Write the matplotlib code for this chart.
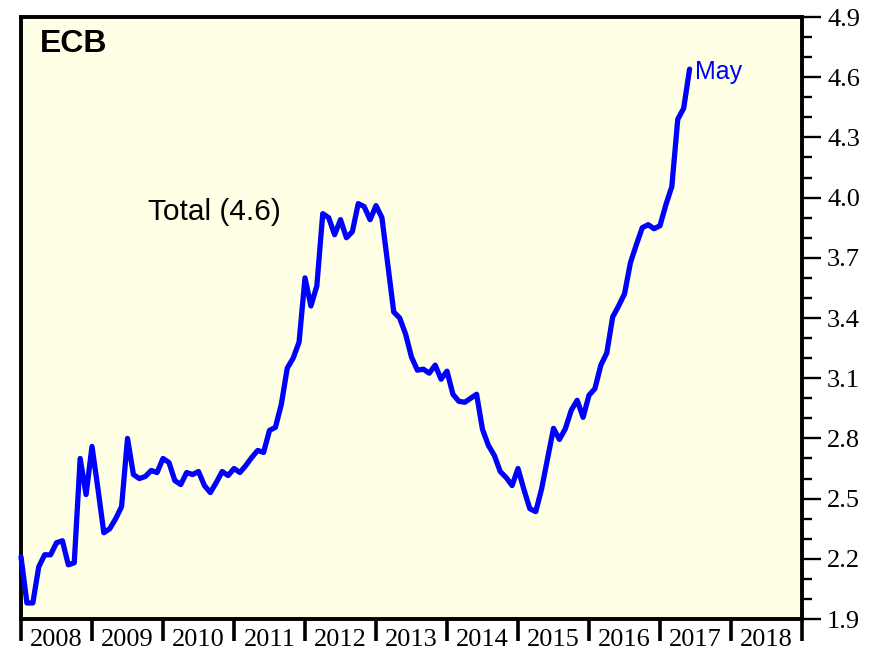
import matplotlib
matplotlib.use("Agg")
import matplotlib.pyplot as plt
import numpy as np
import pandas as pd
from matplotlib.ticker import MultipleLocator, FixedLocator, NullFormatter, FixedFormatter

# ECB total assets (EUR trillion), monthly, Dec 2007 .. May 2017
start_month = "2007-12"
total_assets = [
    2.21, 1.98, 1.98, 2.16, 2.22, 2.22, 2.28, 2.29, 2.17, 2.18, 2.70, 2.52,
    2.76, 2.55, 2.33, 2.35, 2.40, 2.46, 2.80, 2.62, 2.60, 2.61, 2.64, 2.63,
    2.70, 2.68, 2.59, 2.57, 2.63, 2.62, 2.635, 2.565, 2.53, 2.58, 2.635, 2.615,
    2.65, 2.63, 2.665, 2.705, 2.74, 2.73, 2.84, 2.855, 2.97, 3.15, 3.20, 3.28,
    3.60, 3.46, 3.56, 3.92, 3.90, 3.815, 3.89, 3.80, 3.83, 3.97, 3.955, 3.89,
    3.96, 3.90, 3.665, 3.43, 3.40, 3.32, 3.205, 3.14, 3.145, 3.125, 3.165, 3.095,
    3.135, 3.02, 2.985, 2.98, 3.00, 3.02, 2.845, 2.765, 2.715, 2.635, 2.605, 2.565,
    2.65, 2.545, 2.45, 2.435, 2.55, 2.70, 2.85, 2.795, 2.848, 2.94, 2.99, 2.905,
    3.015, 3.048, 3.165, 3.225, 3.405, 3.46, 3.52, 3.675, 3.765, 3.85, 3.865, 3.845,
    3.86, 3.965, 4.055, 4.39, 4.445, 4.64,
]
year_labels = [str(y) for y in range(2008, 2019)]
y_major = [1.9, 2.2, 2.5, 2.8, 3.1, 3.4, 3.7, 4.0, 4.3, 4.6, 4.9]
title_text = "ECB"
series_label = "Total (4.6)"
last_label = "May"

months = pd.date_range(start_month, periods=len(total_assets), freq="MS")
xs = months.year + months.month / 12.0

fig = plt.figure(figsize=(8.78, 6.71), dpi=100)
ax = fig.add_axes([21 / 878, 52 / 671, 781 / 878, 602 / 671])
ax.set_facecolor("#FFFFE6")

ax.plot(xs, total_assets, color="#0000FF", lw=3.8, solid_joinstyle="round",
        solid_capstyle="round", clip_on=False, zorder=3)

ax.set_xlim(2008, 2019)
ax.set_ylim(1.9, 4.9)

for s in ax.spines.values():
    s.set_linewidth(2.8)
    s.set_color("black")

serif = "Liberation Serif"
sans = "Liberation Sans"

# y axis on right
ax.yaxis.tick_right()
ax.yaxis.set_major_locator(FixedLocator(y_major))
ax.yaxis.set_minor_locator(MultipleLocator(0.1))
ax.set_yticklabels([f"{v:.1f}" for v in y_major], fontfamily=serif, fontsize=19)
ax.tick_params(axis="y", which="major", direction="out", length=14, width=1.7, pad=4)
ax.tick_params(axis="y", which="minor", direction="out", length=7, width=1.7)

# x axis: ticks at year boundaries, labels centered between
ax.xaxis.set_major_locator(FixedLocator(range(2008, 2020)))
ax.xaxis.set_major_formatter(NullFormatter())
ax.xaxis.set_minor_locator(FixedLocator([y + 0.5 for y in range(2008, 2019)]))
ax.xaxis.set_minor_formatter(FixedFormatter(year_labels))
ax.tick_params(axis="x", which="major", direction="out", length=16, width=2.6)
ax.tick_params(axis="x", which="minor", length=0, pad=7, labelsize=19)
for lab in ax.xaxis.get_minorticklabels():
    lab.set_fontfamily(serif)

ax.text((40 - 21) / 781, (619 - 53) / 601, title_text, transform=ax.transAxes,
        fontfamily=sans, fontweight="bold", fontsize=23, ha="left", va="baseline")
ax.text((148 - 21) / 781, (619 - 221) / 601, series_label, transform=ax.transAxes,
        fontfamily=sans, fontsize=21.5, ha="left", va="baseline", color="black")
ax.annotate(last_label, xy=(xs[-1], total_assets[-1]), xytext=(4, -7),
            textcoords="offset points", fontfamily=sans, fontsize=18,
            color="#0000FF", ha="left", va="baseline")

fig.savefig("out.png", dpi=100)
